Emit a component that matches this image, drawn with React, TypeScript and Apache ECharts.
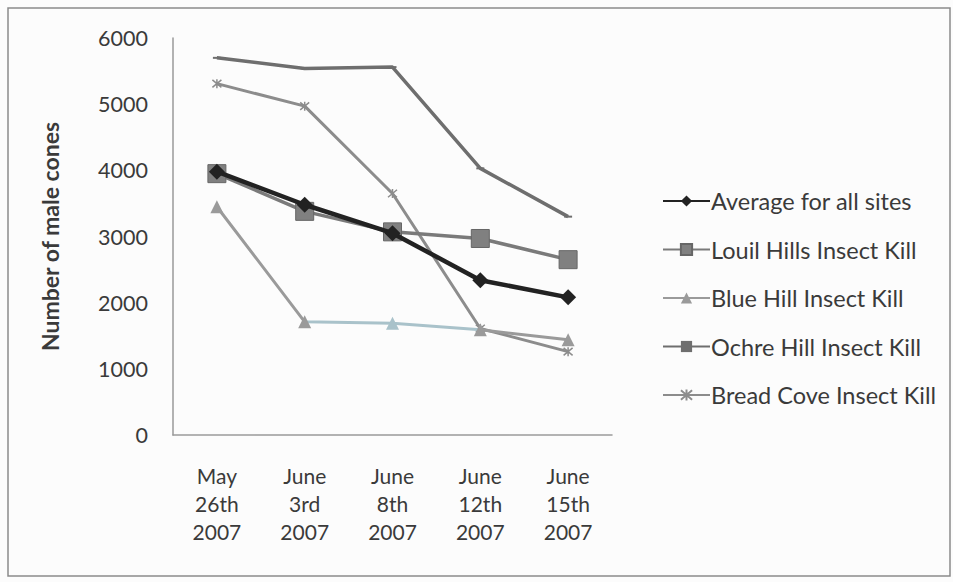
import React, { useEffect, useRef } from "react";
import * as echarts from "echarts";

// Survey dates (x axis)
const dates = ["May\n26th\n2007", "June\n3rd\n2007", "June\n8th\n2007", "June\n12th\n2007", "June\n15th\n2007"];

// Male cone counts per site
const average = [3980, 3480, 3050, 2340, 2080];
const louilHills = [3950, 3380, 3070, 2970, 2650];
const blueHill = [3450, 1710, 1690, 1590, 1440];
const ochreHill = [5700, 5540, 5560, 4030, 3300];
const breadCove = [5310, 4970, 3650, 1610, 1260];

const yTicks = { min: 0, max: 6000, interval: 1000 };

const FONT = "Lato, 'Open Sans', sans-serif";
const TEXT = "#3a3a3a";

const crossSymbol = "path://M0,0 L10,10 M10,0 L0,10 M5,-1 L5,11";

export default function App() {
  const ref = useRef<HTMLDivElement>(null);

  useEffect(() => {
    if (!ref.current) return;
    const chart = echarts.init(ref.current, undefined, { renderer: "svg" });
    chart.setOption({
      animation: false,
      backgroundColor: "#fcfcfc",
      textStyle: { fontFamily: FONT },
      graphic: [
        {
          type: "rect",
          shape: { x: 8, y: 8, width: 942, height: 568 },
          style: { fill: "none", stroke: "#8a8a8a", lineWidth: 1.5 },
          silent: true,
        },
      ],
      grid: { left: 173, right: 341, top: 38, bottom: 147 },
      legend: {
        orient: "vertical",
        left: 657,
        top: 184,
        itemWidth: 47,
        itemHeight: 14,
        itemGap: 24.5,
        textStyle: {
          fontSize: 23.5,
          lineHeight: 24,
          color: TEXT,
          fontFamily: FONT,
          padding: [0, 0, 0, -4],
        },
        data: [
          "Average for all sites",
          "Louil Hills Insect Kill",
          "Blue Hill Insect Kill",
          "Ochre Hill Insect Kill",
          "Bread Cove Insect Kill",
        ],
      },
      visualMap: {
        show: false,
        type: "piecewise",
        seriesIndex: 2,
        dimension: 0,
        pieces: [{ gt: 1.02, lte: 2.6, color: "#a9c2ca" }],
        outOfRange: { color: "#9a9a9a" },
      },
      xAxis: {
        type: "category",
        data: dates,
        boundaryGap: true,
        axisLine: { lineStyle: { color: "#9a9a9a", width: 1.5 } },
        axisTick: { show: false },
        axisLabel: {
          fontSize: 21,
          color: TEXT,
          lineHeight: 28,
          margin: 26,
          fontFamily: FONT,
        },
      },
      yAxis: {
        type: "value",
        min: yTicks.min,
        max: yTicks.max,
        interval: yTicks.interval,
        name: "Number of male cones",
        nameLocation: "middle",
        nameGap: 112,
        nameTextStyle: { fontSize: 23, fontWeight: "bold", color: TEXT, fontFamily: FONT },
        axisLine: { show: true, lineStyle: { color: "#9a9a9a", width: 1.5 } },
        axisTick: { show: false },
        splitLine: { show: false },
        axisLabel: {
          fontSize: 21.5,
          color: TEXT,
          margin: 25,
          fontFamily: FONT,
          formatter: (v: number) => String(v),
        },
      },
      series: [
        {
          name: "Ochre Hill Insect Kill",
          type: "line",
          data: ochreHill,
          z: 2,
          symbol: "rect",
          symbolSize: [8, 2],
          lineStyle: { color: "#6e6e6e", width: 3.5 },
          itemStyle: { color: "#6e6e6e" },
        },
        {
          name: "Bread Cove Insect Kill",
          type: "line",
          data: breadCove,
          z: 2,
          symbol: crossSymbol,
          symbolSize: 9,
          lineStyle: { color: "#8c8c8c", width: 3 },
          itemStyle: { color: "none", borderColor: "#8c8c8c", borderWidth: 1.5 },
        },
        {
          name: "Blue Hill Insect Kill",
          type: "line",
          data: blueHill,
          z: 3,
          symbol: "triangle",
          symbolSize: 13,
          lineStyle: { width: 3 },
          itemStyle: { color: "#9a9a9a" },
        },
        {
          name: "Louil Hills Insect Kill",
          type: "line",
          data: louilHills,
          z: 4,
          symbol: "rect",
          symbolSize: 18,
          lineStyle: { color: "#7a7a7a", width: 3.5 },
          itemStyle: { color: "#808080", borderColor: "#666", borderWidth: 1 },
        },
        {
          name: "Average for all sites",
          type: "line",
          data: average,
          z: 5,
          symbol: "diamond",
          symbolSize: 16,
          lineStyle: { color: "#222222", width: 4.5 },
          itemStyle: { color: "#222222" },
        },
      ],
    });
    return () => chart.dispose();
  }, []);

  return (
    <div
      ref={ref}
      style={{ position: "absolute", left: 0, top: 0, width: 953, height: 582 }}
    />
  );
}
